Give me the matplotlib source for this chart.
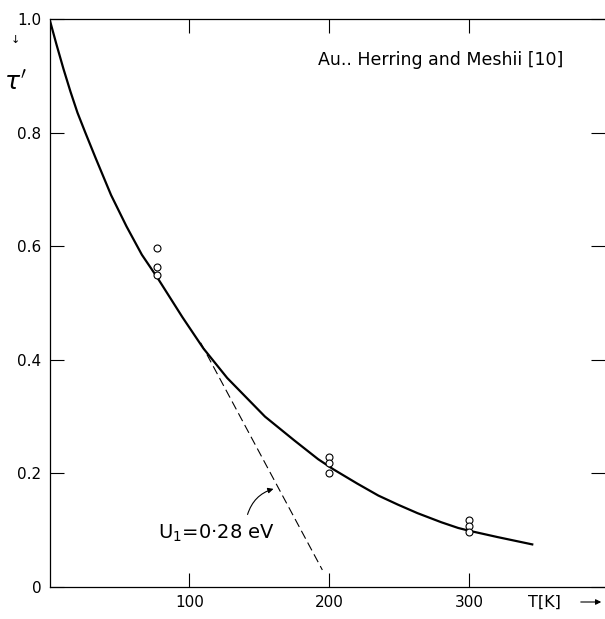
import matplotlib
matplotlib.use("Agg")
import matplotlib.pyplot as plt

# curve (T in K, tau')
curve_T = [0, 5, 10, 15, 20, 25.6, 33, 44, 55, 66, 77, 95, 110, 127, 154, 175, 192, 203, 220, 235,
           249, 263, 280, 292, 300, 320, 345]
curve_tau = [1.0, 0.955, 0.912, 0.872, 0.835, 0.80, 0.755, 0.69, 0.635, 0.585, 0.545, 0.475, 0.42,
             0.368, 0.30, 0.258, 0.225, 0.207, 0.182, 0.161, 0.145, 0.130, 0.114, 0.104, 0.099,
             0.088, 0.075]

# measured points
pts_T = [77, 77, 77, 200, 200, 200, 300, 300, 300]
pts_tau = [0.597, 0.563, 0.549, 0.229, 0.218, 0.201, 0.118, 0.107, 0.097]

# tangent line, U1 = 0.28 eV
tan_T = [108, 195]
tan_tau = [0.43, 0.03]

xticks = [100, 200, 300]
yticks = [0, 0.2, 0.4, 0.6, 0.8, 1.0]
ylabels = ["0", "0.2", "0.4", "0.6", "0.8", "1.0"]

plt.rcParams['font.family'] = ['DejaVu Sans']

fig = plt.figure(figsize=(6.05, 6.19), dpi=100)
ax = fig.add_axes([49.5 / 605, 32 / 619, 1 - 49.5 / 605, 568 / 619])

ax.plot(curve_T, curve_tau, color='black', lw=1.6, zorder=2)
ax.plot(tan_T, tan_tau, color='black', lw=0.8, dashes=(8, 4), zorder=2)
ax.plot(pts_T, pts_tau, 'o', ms=5, mfc='white', mec='black', mew=0.8, zorder=3)

ax.set_xlim(0, 397)
ax.set_ylim(0, 1.0)
ax.set_xticks(xticks)
ax.set_yticks(yticks)
ax.set_yticklabels(ylabels)
ax.tick_params(direction='in', length=10, width=0.8, top=True, right=True, labelsize=11, pad=6)
ax.spines['right'].set_visible(False)
for s in ['left', 'bottom', 'top']:
    ax.spines[s].set_linewidth(0.9)

ax.text(367, 0.928, "Au.. Herring and Meshii [10]", ha='right', va='center', fontsize=12.5)
ax.text(77.5, 0.095, "U$_1$=0·28 eV", ha='left', va='center', fontsize=14)
ax.annotate("", xy=(162, 0.174), xytext=(141, 0.123),
            arrowprops=dict(arrowstyle='-|>', color='black', lw=0.8, mutation_scale=8,
                            connectionstyle='arc3,rad=-0.3'))

fig.text(15 / 605, 1 - 40 / 619, "↓", ha='center', va='center', fontsize=8)
fig.text(15 / 605, 1 - 83 / 619, r"$\tau'$", ha='center', va='center', fontsize=18)
fig.text(528 / 605, 1 - 602 / 619, "T[K]", ha='left', va='center', fontsize=11.5)
fig.add_artist(matplotlib.patches.FancyArrowPatch((578 / 605, 1 - 602 / 619), (604 / 605, 1 - 602 / 619),
                                                  transform=fig.transFigure, arrowstyle='-|>',
                                                  mutation_scale=8, lw=0.8, color='black'))

fig.savefig("out.png", dpi=100)
